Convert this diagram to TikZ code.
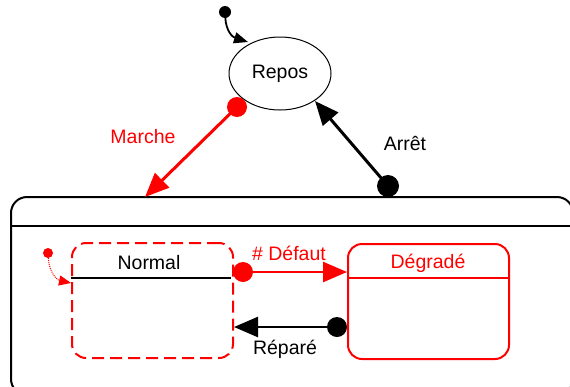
\documentclass[tikz,border=0pt]{standalone}
\usepackage{fontspec}
\setmainfont{Liberation Sans}
\usetikzlibrary{arrows.meta,shapes.geometric}
\definecolor{sred}{RGB}{255,0,0}

\begin{document}
\begin{tikzpicture}[x=1pt,y=-1pt,
  lbl/.style={font=\fontsize{19.5}{22}\selectfont, inner sep=0pt},
  bigtip/.style={-{Triangle[length=24pt,width=20pt]}},
  smalltip/.style={-{Triangle[length=14pt,width=11pt]}},
  dot/.style={circle, fill, inner sep=0pt, minimum size=#1},
  statebox/.style={rectangle, rounded corners=14pt, line width=2pt,
    minimum width=161pt, minimum height=115pt, anchor=north west, inner sep=0pt},
]
\useasboundingbox (0,0) rectangle (570,386);

% composite state (header strip + body)
\node[draw, rectangle, rounded corners=16pt, line width=2pt, anchor=north west,
      minimum width=562pt, minimum height=198pt, inner sep=0pt] (sys) at (10,196) {};
\draw[line width=2pt] (10,226) -- (572,226);

% idle state
\node[draw, ellipse, line width=1pt, minimum width=102pt, minimum height=73pt,
      inner sep=0pt, lbl] (repos) at (280,73.5) {Repos};

% sub-states
\node[draw=sred, dashed, dash pattern=on 12pt off 6pt, statebox] (normal) at (71,242) {};
\draw[line width=1.5pt] (71,278) -- (231,278);
\node[lbl] at (149,263) {Normal};

\node[draw=sred, statebox] (degrade) at (347,243) {};
\draw[sred, line width=2pt] (347,278) -- (508,278);
\node[lbl, text=sred] at (428,263) {Dégradé};

% initial pseudo-states
\node[dot=12pt] (init) at (225,12) {};
\coordinate (initEnd) at (248,42);
\draw[smalltip, line width=1.8pt] (init) .. controls (226,30) and (232,37) .. (initEnd);

\node[dot=10pt, fill=sred] (initN) at (48,253) {};
\coordinate (initNEnd) at (71,283);
\draw[-{Triangle[length=12pt,width=10pt]}, sred, densely dotted, line width=1pt]
  (initN) .. controls (49,272) and (57,280) .. (initNEnd);

% Marche
\node[dot=20pt, fill=sred] (marcheDot) at (237,107) {};
\coordinate (marcheEnd) at (145,197);
\draw[bigtip, sred, line width=3pt] (marcheDot.center) -- (marcheEnd);
\node[lbl, text=sred] at (143,137) {Marche};

% Arrêt
\node[dot=22pt] (arretDot) at (388,186) {};
\coordinate (arretEnd) at (315,101);
\draw[bigtip, line width=3pt] (arretDot.center) -- (arretEnd);
\node[lbl] at (405,143) {Arrêt};

% Défaut
\node[dot=20pt, fill=sred] (defDot) at (243,272) {};
\draw[bigtip, sred, line width=2.5pt] (defDot.center) -- (defDot.center -| degrade.west);
\node[lbl, text=sred] at (289,253) {\# Défaut};

% Réparé
\node[dot=20pt] (repDot) at (337,327) {};
\draw[bigtip, line width=2.5pt] (repDot.center) -- (repDot.center -| normal.east);
\node[lbl] at (285,349) {Réparé};

\end{tikzpicture}
\end{document}
